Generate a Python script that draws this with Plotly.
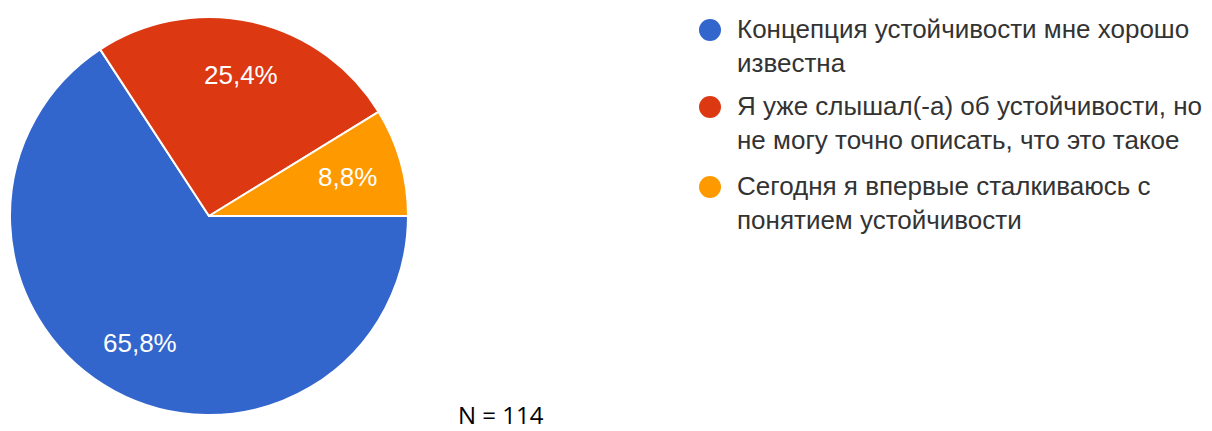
import math
import plotly.graph_objects as go

categories = [
    "Концепция устойчивости мне хорошо<br>известна",
    "Я уже слышал(-а) об устойчивости, но<br>не могу точно описать, что это такое",
    "Сегодня я впервые сталкиваюсь с<br>понятием устойчивости",
]
counts = [75, 29, 10]
colors = ["#3366CC", "#DC3912", "#FF9900"]
n_total = sum(counts)

W, H = 1212, 431
# pie domain (paper fractions)
px0, px1 = 10 / W, 408 / W
py0, py1 = 1 - 415 / H, 1 - 17 / H

fig = go.Figure()
fig.add_trace(go.Pie(
    labels=categories,
    values=counts,
    sort=False,
    direction="clockwise",
    rotation=90,
    marker=dict(colors=colors, line=dict(color="white", width=2)),
    textinfo="none",
    domain=dict(x=[px0, px1], y=[py0, py1]),
    showlegend=False,
    hoverinfo="label+percent",
))

# percentage labels placed along each slice's bisector at ~0.73 of the radius
cx_pix = (px0 + px1) / 2 * W
cy_pix = (1 - (py0 + py1) / 2) * H
radius = min((px1 - px0) * W, (py1 - py0) * H) / 2
start = 0.0  # degrees (math convention), going clockwise
for v in counts:
    share = v / n_total
    mid = start - share * 360 / 2
    start -= share * 360
    r = 0.725 * radius
    lx = cx_pix + r * math.cos(math.radians(mid))
    ly = cy_pix - r * math.sin(math.radians(mid))
    fig.add_annotation(x=lx / W, y=1 - ly / H, xref="paper", yref="paper",
                       xanchor="center", yanchor="middle", showarrow=False,
                       text=f"{share * 100:.1f}%".replace(".", ","),
                       font=dict(family="Arial, Liberation Sans", size=26, color="white"))

# legend drawn as circles + text
legend_y = [30, 107, 187]
for cat, col, ly in zip(categories, colors, legend_y):
    fig.add_shape(type="circle", xref="paper", yref="paper",
                  x0=699 / W, x1=721 / W,
                  y0=1 - (ly + 11) / H, y1=1 - (ly - 11) / H,
                  fillcolor=col, line=dict(width=0))
    fig.add_annotation(x=735 / W, y=1 - (ly - 18) / H, xref="paper", yref="paper",
                       xanchor="left", yanchor="top", align="left",
                       text=cat, showarrow=False,
                       font=dict(family="Arial, Liberation Sans", size=26, color="#333333"))

fig.add_annotation(x=501 / W, y=1 - 414 / H, xref="paper", yref="paper",
                   xanchor="center", yanchor="middle", borderpad=0,
                   text=f"N = {n_total}", showarrow=False,
                   font=dict(family="Open Sans, DejaVu Sans", size=24, color="black"))

fig.update_layout(
    width=W, height=H,
    margin=dict(l=0, r=0, t=0, b=0),
    paper_bgcolor="white",
    plot_bgcolor="white",
)

fig.write_html("out.html")
